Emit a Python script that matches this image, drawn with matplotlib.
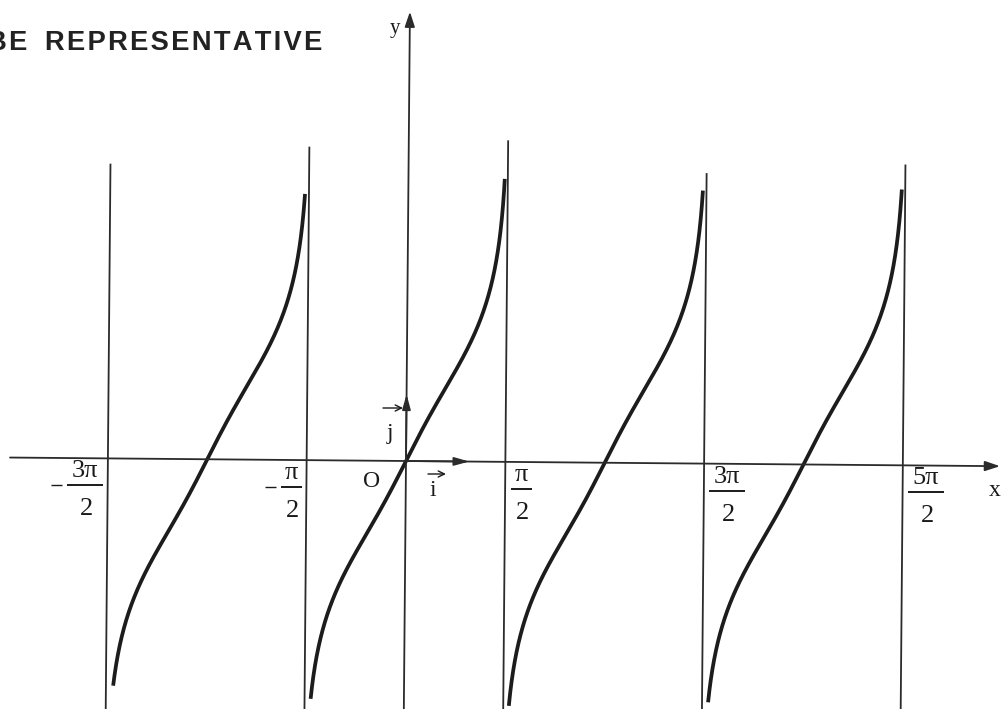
import numpy as np
import matplotlib
matplotlib.use("Agg")
import matplotlib.pyplot as plt
from matplotlib.transforms import Affine2D, offset_copy

SERIF = ["Liberation Serif", "DejaVu Serif"]

# Vertical asymptotes of tan and their tick labels (sign, numerator, denominator)
asymptotes = np.array([-1.5, -0.5, 0.5, 1.5, 2.5]) * np.pi
asym_num = ["3\u03c0", "\u03c0", "\u03c0", "3\u03c0", "5\u03c0"]
asym_den = ["2", "2", "2", "2", "2"]
asym_top = [25.0, 33.5, 38.0, 23.4, 27.5]      # upper end of each asymptote (y units)

# Branches of y = tan(x): centre k*pi, and the y values where each drawn arc stops
branch_k = [-1, 0, 1, 2]
branch_y_top = [16.0, 20.8, 17.8, 18.6]
branch_y_bottom = [-8.7, -10.4, -11.3, -10.4]

# Frame vectors
i_len = 1.0
j_len = 0.62

W, H = 1003, 709
fig = plt.figure(figsize=(W / 100, H / 100), dpi=100)
ax = fig.add_axes([0, 0, 1, 1])
ax.set_yscale("asinh", linear_width=0.5)

# Origin placement and scales (pixels)
ox_px, oy_px = 406.0, 461.0
sx = 63.26          # pixels per radian
sy = 128.0          # pixels per asinh-scaled unit
a0 = 0.5
def y_from_px(h):
    return a0 * np.sinh((h / sy) / a0)
ax.set_xlim(-ox_px / sx, (W - ox_px) / sx)
ax.set_ylim(y_from_px(-(H - oy_px)), y_from_px(oy_px))
ax.axis("off")

ox, oy = ax.transData.transform((0, 0))
rot = ax.transData + Affine2D().rotate_deg_around(ox, oy, -0.5)

def shifted(dx, dy):
    """Data transform (with the slight tilt) shifted by dx, dy pixels."""
    return offset_copy(rot, fig=fig, x=dx, y=dy, units="dots")

PT = 0.72           # points per pixel at 100 dpi
line_col = "#2b2b2b"
curve_col = "#1c1c1c"
text_col = "#1a1a1a"

# Asymptotes
for xa, top in zip(asymptotes, asym_top):
    ax.plot([xa, xa], [-40, top], color=line_col, lw=1.3, transform=rot,
            solid_capstyle="butt")

# Axes with arrows
x_left, x_tip = -6.26, 9.39
y_tip = 280.0
head = "-|>,head_length=0.9,head_width=0.3"
ax.annotate("", xy=(x_tip, 0), xytext=(x_left, 0), xycoords=rot,
            arrowprops=dict(arrowstyle=head, lw=1.3, color=line_col,
                            shrinkA=0, shrinkB=0))
ax.annotate("", xy=(0, y_tip), xytext=(0, -40), xycoords=rot,
            arrowprops=dict(arrowstyle=head, lw=1.3, color=line_col,
                            shrinkA=0, shrinkB=0))

# Unit vectors i and j
vhead = "-|>,head_length=0.9,head_width=0.25"
ax.annotate("", xy=(i_len, 0), xytext=(0, 0), xycoords=rot,
            arrowprops=dict(arrowstyle=vhead, lw=1.3, color=line_col,
                            shrinkA=0, shrinkB=0))
ax.annotate("", xy=(0, j_len), xytext=(0, 0), xycoords=rot,
            arrowprops=dict(arrowstyle=vhead, lw=1.3, color=line_col,
                            shrinkA=0, shrinkB=0))

# Tangent branches
for k, yt, yb in zip(branch_k, branch_y_top, branch_y_bottom):
    xs = k * np.pi + np.linspace(np.arctan(yb), np.arctan(yt), 600)
    ax.plot(xs, np.tan(xs), color=curve_col, lw=2.7, transform=rot,
            solid_capstyle="butt")

# Asymptote labels, written as stacked fractions
for xa, num, den in zip(asymptotes, asym_num, asym_den):
    w = 36 if len(num) > 1 else 21
    cx = -(w / 2 + 5) if xa < 0 else (w / 2 + 5)
    ax.annotate(num, xy=(xa, 0), xycoords=rot, xytext=(cx * PT, -19 * PT),
                textcoords="offset points", ha="center", va="baseline",
                fontsize=19, family=SERIF, color=text_col)
    ax.annotate(den, xy=(xa, 0), xycoords=rot, xytext=((cx + 1.5) * PT, -57 * PT),
                textcoords="offset points", ha="center", va="baseline",
                fontsize=19, family=SERIF, color=text_col)
    ax.plot([xa], [0], marker="_", ms=w * PT, mew=1.4, color=text_col,
            transform=shifted(cx, -27))
    if xa < 0:
        ax.plot([xa], [0], marker="_", ms=11 * PT, mew=1.0, color=text_col,
                transform=shifted(cx - w / 2 - 11, -27))

# Axis names and origin
txt = dict(xycoords=rot, textcoords="offset points", family=SERIF,
           color=text_col)
ax.annotate("y", xy=(0, y_tip), xytext=(-11, -12), ha="center", va="center",
            fontsize=15, **txt)
ax.annotate("x", xy=(x_tip, 0), xytext=(-3.5, -17.5), ha="center", va="center",
            fontsize=17, **txt)
ax.annotate("O", xy=(0, 0), xytext=(-24.5, -14.5), ha="center", va="center",
            fontsize=17, **txt)

# Vector names with their overhead arrows
ax.annotate("i", xy=(0, 0), xytext=(27 * PT, -30 * PT), ha="center",
            va="center", fontsize=17, **txt)
ax.annotate("j", xy=(0, 0), xytext=(-16 * PT, 28 * PT), ha="center",
            va="center", fontsize=17, **txt)
small = dict(arrowstyle="->,head_length=0.45,head_width=0.22", lw=1.0,
             color=text_col, shrinkA=0, shrinkB=0)
ax.annotate("", xy=(0, 0), xycoords=shifted(40, -13),
            xytext=(0, 0), textcoords=shifted(22, -13), arrowprops=small)
ax.annotate("", xy=(0, 0), xycoords=shifted(-3, 53),
            xytext=(0, 0), textcoords=shifted(-23, 53), arrowprops=small)

# Heading (letter-spaced, running off the left edge)
hs = "\u200a"
heading = hs.join("BE") + "  " + hs + hs.join("REPRESENTATIVE")
fig.text(322 / W, 1 - 50 / H, heading, ha="right", va="baseline",
         fontsize=19.7, weight="bold", family=["Liberation Sans", "DejaVu Sans"],
         color="#222222")

fig.savefig("out.png", dpi=100, facecolor="white")
